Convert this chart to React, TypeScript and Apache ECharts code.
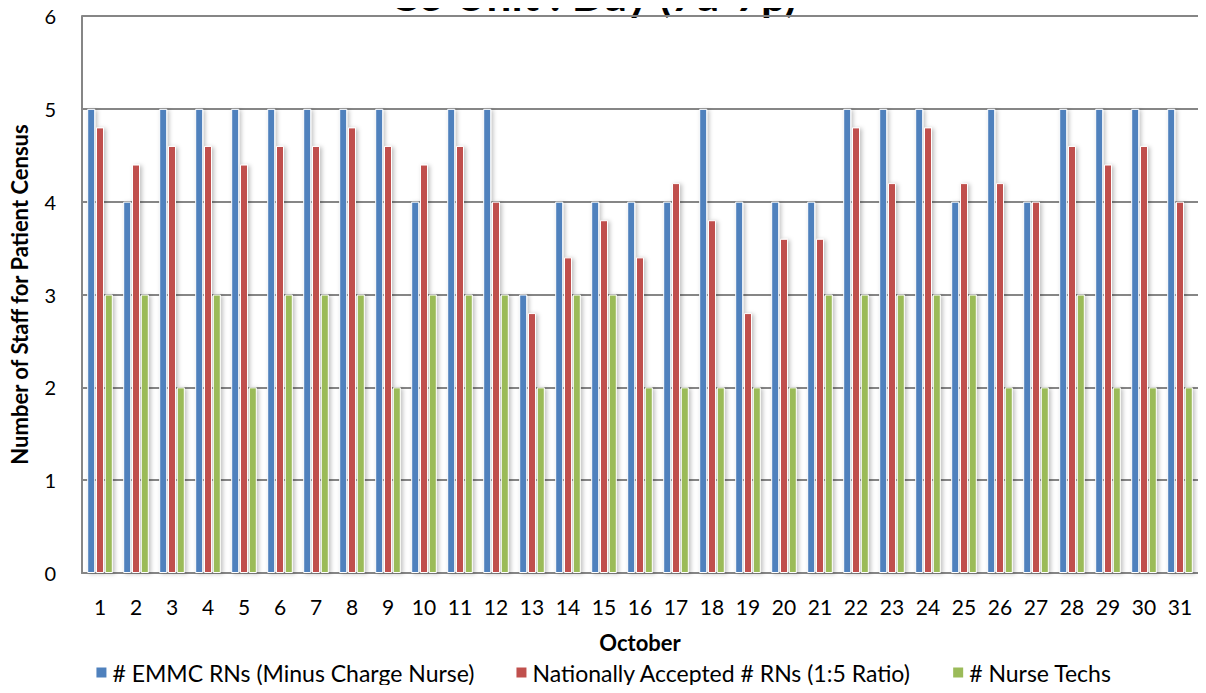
import React, { useEffect, useRef } from "react";
import * as echarts from "echarts";

const days = ["1","2","3","4","5","6","7","8","9","10","11","12","13","14","15","16","17","18","19","20","21","22","23","24","25","26","27","28","29","30","31"];
const emmcRNs = [5,4,5,5,5,5,5,5,5,4,5,5,3,4,4,4,4,5,4,4,4,5,5,5,4,5,4,5,5,5,5];
const nationalRNs = [4.8,4.4,4.6,4.6,4.4,4.6,4.6,4.8,4.6,4.4,4.6,4.0,2.8,3.4,3.8,3.4,4.2,3.8,2.8,3.6,3.6,4.8,4.2,4.8,4.2,4.2,4.0,4.6,4.4,4.6,4.0];
const nurseTechs = [3,3,2,3,2,3,3,3,2,3,3,3,2,3,3,2,2,2,2,2,3,3,3,3,3,2,2,3,2,2,2];
const seriesNames = ["# EMMC RNs (Minus Charge Nurse)", "Nationally Accepted # RNs (1:5 Ratio)", "# Nurse Techs"];
const colors = ["#4F81BD", "#C0504D", "#9BBB59"];

const FONT = "Lato, 'Open Sans', sans-serif";

export default function App() {
  const ref = useRef<HTMLDivElement>(null);
  useEffect(() => {
    if (!ref.current) return;
    const chart = echarts.init(ref.current, null, { renderer: "svg" });
    const values = [emmcRNs, nationalRNs, nurseTechs];
    chart.setOption({
      animation: false,
      textStyle: { fontFamily: FONT },
      graphic: [
        {
          type: "text",
          x: 593,
          y: 16,
          z: -1,
          style: {
            text: "C3 Unit : Day (7a-7p)",
            fontSize: 44,
            fontWeight: "bold",
            fontFamily: FONT,
            fill: "#000",
            textAlign: "center",
            textVerticalAlign: "bottom",
          },
        },
      ],
      legend: {
        bottom: 4,
        left: "center",
        itemWidth: 12,
        itemHeight: 12,
        itemGap: 40,
        icon: "rect",
        textStyle: { fontSize: 23, color: "#000", fontFamily: FONT },
        data: seriesNames,
      },
      grid: { left: 80, right: 8, top: 16, bottom: 120, containLabel: false },
      xAxis: {
        type: "category",
        data: days,
        name: "October",
        nameLocation: "middle",
        nameGap: 58,
        nameTextStyle: { fontSize: 22, fontWeight: "bold", color: "#000", fontFamily: FONT },
        axisLine: { lineStyle: { color: "#868686", width: 2 } },
        axisTick: { show: false },
        axisLabel: { fontSize: 21, color: "#000", margin: 23, interval: 0, fontFamily: FONT },
      },
      yAxis: {
        type: "value",
        min: 0,
        max: 6,
        interval: 1,
        name: "Number of Staff for Patient Census",
        nameLocation: "middle",
        nameGap: 52,
        nameTextStyle: { fontSize: 22, fontWeight: "bold", color: "#000", fontFamily: FONT },
        axisLine: { show: true, lineStyle: { color: "#868686", width: 2 } },
        axisTick: { show: false },
        axisLabel: { fontSize: 20, color: "#000", margin: 26, fontFamily: FONT },
        splitLine: { lineStyle: { color: "#868686", width: 2 } },
      },
      series: seriesNames.map((name, i) => ({
        name,
        type: "bar",
        data: values[i],
        barWidth: 8,
        barGap: "10%",
        itemStyle: {
          color: colors[i],
          borderColor: "#fff",
          borderWidth: 1,
          shadowColor: "rgba(0,0,0,0.25)",
          shadowBlur: 4,
          shadowOffsetX: 2,
          shadowOffsetY: 1,
        },
      })),
    });
    return () => chart.dispose();
  }, []);
  return <div ref={ref} style={{ width: 1206, height: 693, margin: -8 }} />;
}
